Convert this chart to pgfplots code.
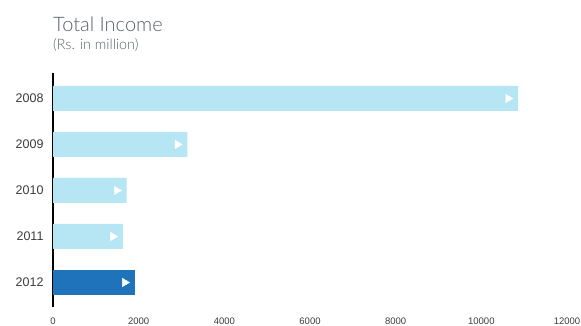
\documentclass[border=0pt]{standalone}
\usepackage{fontspec}
\setmainfont{Liberation Sans}
\newfontfamily\titlefont{Lato Light}
\usepackage{pgfplots}
\pgfplotsset{compat=1.18}
\definecolor{lightbar}{RGB}{182,229,243}
\definecolor{darkbar}{RGB}{30,115,187}
\definecolor{titlegray}{RGB}{88,96,106}
\definecolor{ticktext}{RGB}{60,60,60}
\begin{document}
\begin{tikzpicture}[x=1pt,y=1pt]
\useasboundingbox (0pt,0pt) rectangle (581pt,-326pt);
\node[anchor=base west,inner sep=0pt,text=titlegray,font=\titlefont\fontsize{20}{24}\selectfont] at (53pt,-32pt) {Total Income};
\node[anchor=base west,inner sep=0pt,text=titlegray,font=\titlefont\fontsize{14.3}{16}\selectfont] at (53pt,-50pt) {(Rs. in million)};
\begin{axis}[
  at={(53pt,-307pt)}, anchor=south west,
  scale only axis, width=514pt, height=234pt,
  xmin=0, xmax=12000,
  ymin=-0.554, ymax=4.533,
  y dir=reverse,
  xtick={0,2000,...,12000},
  ytick={0,1,2,3,4},
  yticklabels={2008,2009,2010,2011,2012},
  scaled x ticks=false,
  /pgf/number format/assume math mode=true,
  /pgf/number format/1000 sep={},
  xticklabel style={font=\fontsize{9.5}{11}\selectfont, text=ticktext},
  yticklabel style={font=\fontsize{12.5}{14}\selectfont, text=ticktext},
  axis y line*=left,
  axis x line*=bottom,
  x axis line style={draw=none},
  y axis line style={black, line width=2.4pt, -},
  major tick length=0pt,
  xticklabel shift=7pt,
  yticklabel shift=6pt,
  clip=false,
]
\addplot[xbar, bar width=25pt, bar shift=0pt, fill=lightbar, draw=none] coordinates {(10860,0) (3140,1) (1720,2) (1630,3)};
\addplot[xbar, bar width=25pt, bar shift=0pt, fill=darkbar, draw=none] coordinates {(1910,4)};
\addplot[only marks, white, mark=triangle*, mark size=4.8pt, mark options={fill=white, draw=white, xshift=-10pt, rotate=-90}] coordinates {(10860,0) (3140,1) (1720,2) (1630,3) (1910,4)};
\end{axis}
\end{tikzpicture}
\end{document}
